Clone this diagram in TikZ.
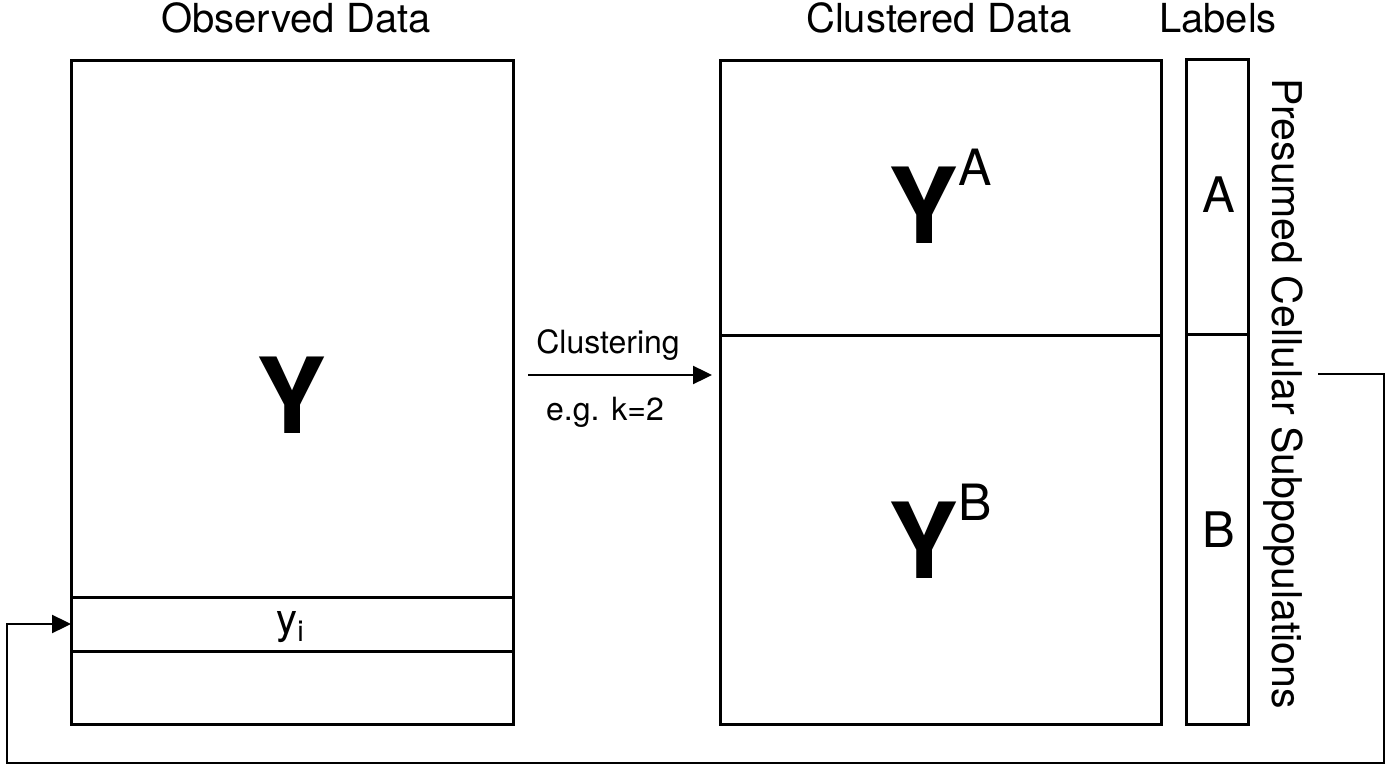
\documentclass[tikz,border=0pt]{standalone}
\usepackage{fontspec}
\setmainfont{TeX Gyre Heros}
\usetikzlibrary{arrows.meta}
\newcommand{\sizept}[1]{\fontsize{#1}{#1}\selectfont}
\begin{document}
\begin{tikzpicture}[x=1pt,y=-1pt,
  cell/.style={draw, line width=3pt, inner sep=0pt, outer sep=0pt},
  txt/.style={inner sep=0pt, outer sep=0pt, anchor=base},
  link/.style={line width=2.4pt, -{Triangle[length=19pt,width=18pt]}}]
\useasboundingbox (0,0) rectangle (1387,767);

% column titles
\node[txt] (tobs) at (296,33) {\sizept{40}Observed Data};
\node[txt] (tclu) at (939,33) {\sizept{40}Clustered Data};
\node[txt] (tlab) at (1218,33) {\sizept{40}Labels};

% observed data matrix with one highlighted row
\node[cell, minimum width=442pt, minimum height=536pt] (obs) at (292,329) {};
\node[cell, minimum width=442pt, minimum height=54pt] (yi) at (292,624) {};
\node[cell, minimum width=442pt, minimum height=73pt] (obsbot) at (292,687.5) {};
\node[txt] (ybig) at (292,433) {\sizept{105}\bfseries Y};
\node[txt] (yitxt) at (290,633) {\sizept{42}y\raisebox{-8pt}{\sizept{29}i}};

% clustered data
\node[cell, minimum width=441pt, minimum height=275pt] (cla) at (940.5,198.5) {};
\node[cell, minimum width=441pt, minimum height=388pt] (clb) at (940.5,530) {};
\node[txt] (ya) at (940,244) {\sizept{105}\bfseries Y\raisebox{58pt}{\sizept{50}\mdseries A}};
\node[txt] (yb) at (940,578) {\sizept{105}\bfseries Y\raisebox{58pt}{\sizept{50}\mdseries B}};

% label column
\node[cell, minimum width=62pt, minimum height=275pt] (laba) at (1217,197.5) {};
\node[cell, minimum width=62pt, minimum height=389pt] (labb) at (1217,529.5) {};
\node[txt] (la) at (1219,213) {\sizept{49}A};
\node[txt] (lb) at (1219,547) {\sizept{49}B};
\node[txt, rotate=-90] (sub) at (1272,393.5) {\sizept{41}Presumed Cellular Subpopulations};

% clustering step
\coordinate (cs) at (528,375);
\coordinate (ce) at (712,375);
\draw[link] (cs) -- (ce);
\node[txt] (clust) at (608,353) {\sizept{32}Clustering};
\node[txt] (kk) at (605,420) {\sizept{32}e.g. k=2};

% feedback loop back to a single row
\coordinate (fb) at (1318,374);
\coordinate (fbR) at (1384,763);
\coordinate (fbL) at (7,763);
\draw[link] (fb) -| (fbR) -- (fbL) |- (yi.west);
\end{tikzpicture}
\end{document}
